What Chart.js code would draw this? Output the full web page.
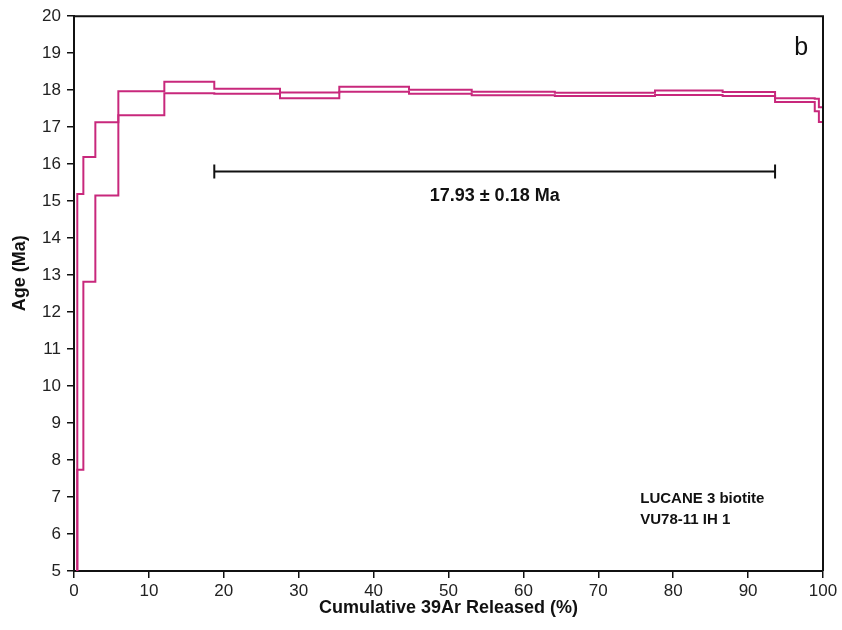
<!DOCTYPE html>
<html>
<head>
<meta charset="utf-8">
<script src="https://cdn.jsdelivr.net/npm/chart.js@4/dist/chart.umd.min.js"></script>
<style>
  html, body { margin: 0; padding: 0; background: #fff; }
  #wrap { width: 842px; height: 630px; position: relative; }
</style>
</head>
<body>
<div id="wrap"><canvas id="c" width="842" height="630"></canvas></div>
<script>
// Step boundaries (cumulative 39Ar released, %)
const cumulative39Ar = [0, 0.44, 1.25, 2.85, 5.92, 12.06, 18.73, 27.5, 35.42, 44.73, 53.1, 64.2, 77.57, 86.6, 93.6, 98.9, 99.45, 100];
// Upper (age + error) and lower (age - error) of each heating step, Ma
const ageUpper = [4.6, 15.19, 16.19, 17.13, 17.97, 18.23, 18.04, 17.94, 18.09, 18.01, 17.96, 17.93, 17.99, 17.95, 17.78, 17.77, 17.54];
const ageLower = [3.8, 7.74, 12.82, 15.15, 17.32, 17.92, 17.90, 17.78, 17.96, 17.90, 17.86, 17.84, 17.87, 17.84, 17.68, 17.43, 17.14];
// Plateau steps
const plateauRange = [18.73, 93.6];
const plateauLabel = '17.93 \u00b1 0.18 Ma';
const panelLabel = 'b';
const sampleLabel = ['LUCANE 3 biotite', 'VU78-11 IH 1'];
const xTitle = 'Cumulative 39Ar Released (%)';
const yTitle = 'Age (Ma)';

const FONT = '"Liberation Sans", Arial, Helvetica, sans-serif';
const LINE = '#c8287c';

function stepPoints(bounds, vals) {
  const pts = vals.map((v, i) => ({ x: bounds[i], y: v }));
  pts.push({ x: bounds[bounds.length - 1], y: vals[vals.length - 1] });
  return pts;
}

const plateauY = 15.8;

const framePlugin = {
  id: 'frame',
  afterDatasetsDraw(chart) {
    const { ctx, chartArea: a, scales } = chart;
    ctx.save();
    ctx.strokeStyle = '#111';
    ctx.lineWidth = 2;
    ctx.beginPath();
    ctx.moveTo(a.left, a.top);
    ctx.lineTo(a.right, a.top);
    ctx.lineTo(a.right, a.bottom);
    ctx.stroke();
    const xs = scales.x, ys = scales.y;
    ctx.fillStyle = '#111';
    ctx.textAlign = 'center';
    ctx.textBaseline = 'middle';
    ctx.font = 'bold 18px ' + FONT;
    ctx.fillText(plateauLabel, xs.getPixelForValue((plateauRange[0] + plateauRange[1]) / 2), ys.getPixelForValue(plateauY) + 24);
    ctx.font = '25px ' + FONT;
    ctx.fillText(panelLabel, xs.getPixelForValue(97.1), ys.getPixelForValue(19.13));
    ctx.textAlign = 'left';
    ctx.font = 'bold 15px ' + FONT;
    ctx.fillText(sampleLabel[0], xs.getPixelForValue(75.6), ys.getPixelForValue(6.95));
    ctx.fillText(sampleLabel[1], xs.getPixelForValue(75.6), ys.getPixelForValue(6.38));
    // y-axis title
    ctx.save();
    ctx.translate(20, ys.getPixelForValue(13.05));
    ctx.rotate(-Math.PI / 2);
    ctx.textAlign = 'center';
    ctx.font = 'bold 18px ' + FONT;
    ctx.fillText(yTitle, 0, 0);
    ctx.restore();
    ctx.restore();
  }
};

new Chart(document.getElementById('c'), {
  type: 'scatter',
  data: {
    datasets: [
      { data: stepPoints(cumulative39Ar, ageUpper), showLine: true, stepped: 'before', borderColor: LINE, borderWidth: 2, pointRadius: 0, fill: false },
      { data: stepPoints(cumulative39Ar, ageLower), showLine: true, stepped: 'before', borderColor: LINE, borderWidth: 2, pointRadius: 0, fill: false },
      { data: plateauRange.map(x => ({ x: x, y: plateauY })), showLine: true, borderColor: '#111', borderWidth: 2,
        pointStyle: 'line', rotation: 90, pointRadius: 7, pointBorderColor: '#111', pointBorderWidth: 2 }
    ]
  },
  options: {
    responsive: false,
    animation: false,
    events: [],
    layout: { padding: { top: 16, right: 19, left: 0, bottom: 0 } },
    plugins: { legend: { display: false }, tooltip: { enabled: false } },
    scales: {
      x: {
        type: 'linear', min: 0, max: 100,
        ticks: { stepSize: 10, color: '#222', font: { family: FONT, size: 17 }, padding: 3, maxRotation: 0 },
        grid: { display: true, drawOnChartArea: false, drawTicks: true, tickLength: 7, color: '#111', lineWidth: 1.5 },
        border: { display: true, color: '#111', width: 2 },
        title: { display: true, text: xTitle, color: '#111', font: { family: FONT, size: 18, weight: 'bold' }, padding: { top: 0, bottom: 11 } },
        afterFit(s) { s.height = 59; }
      },
      y: {
        type: 'linear', min: 5, max: 20,
        ticks: { stepSize: 1, color: '#222', font: { family: FONT, size: 17 }, padding: 6 },
        grid: { display: true, drawOnChartArea: false, drawTicks: true, tickLength: 7, color: '#111', lineWidth: 1.5 },
        border: { display: true, color: '#111', width: 2 },
        title: { display: false },
        afterFit(s) { s.width = 74; }
      }
    }
  },
  plugins: [framePlugin]
});
</script>
</body>
</html>
